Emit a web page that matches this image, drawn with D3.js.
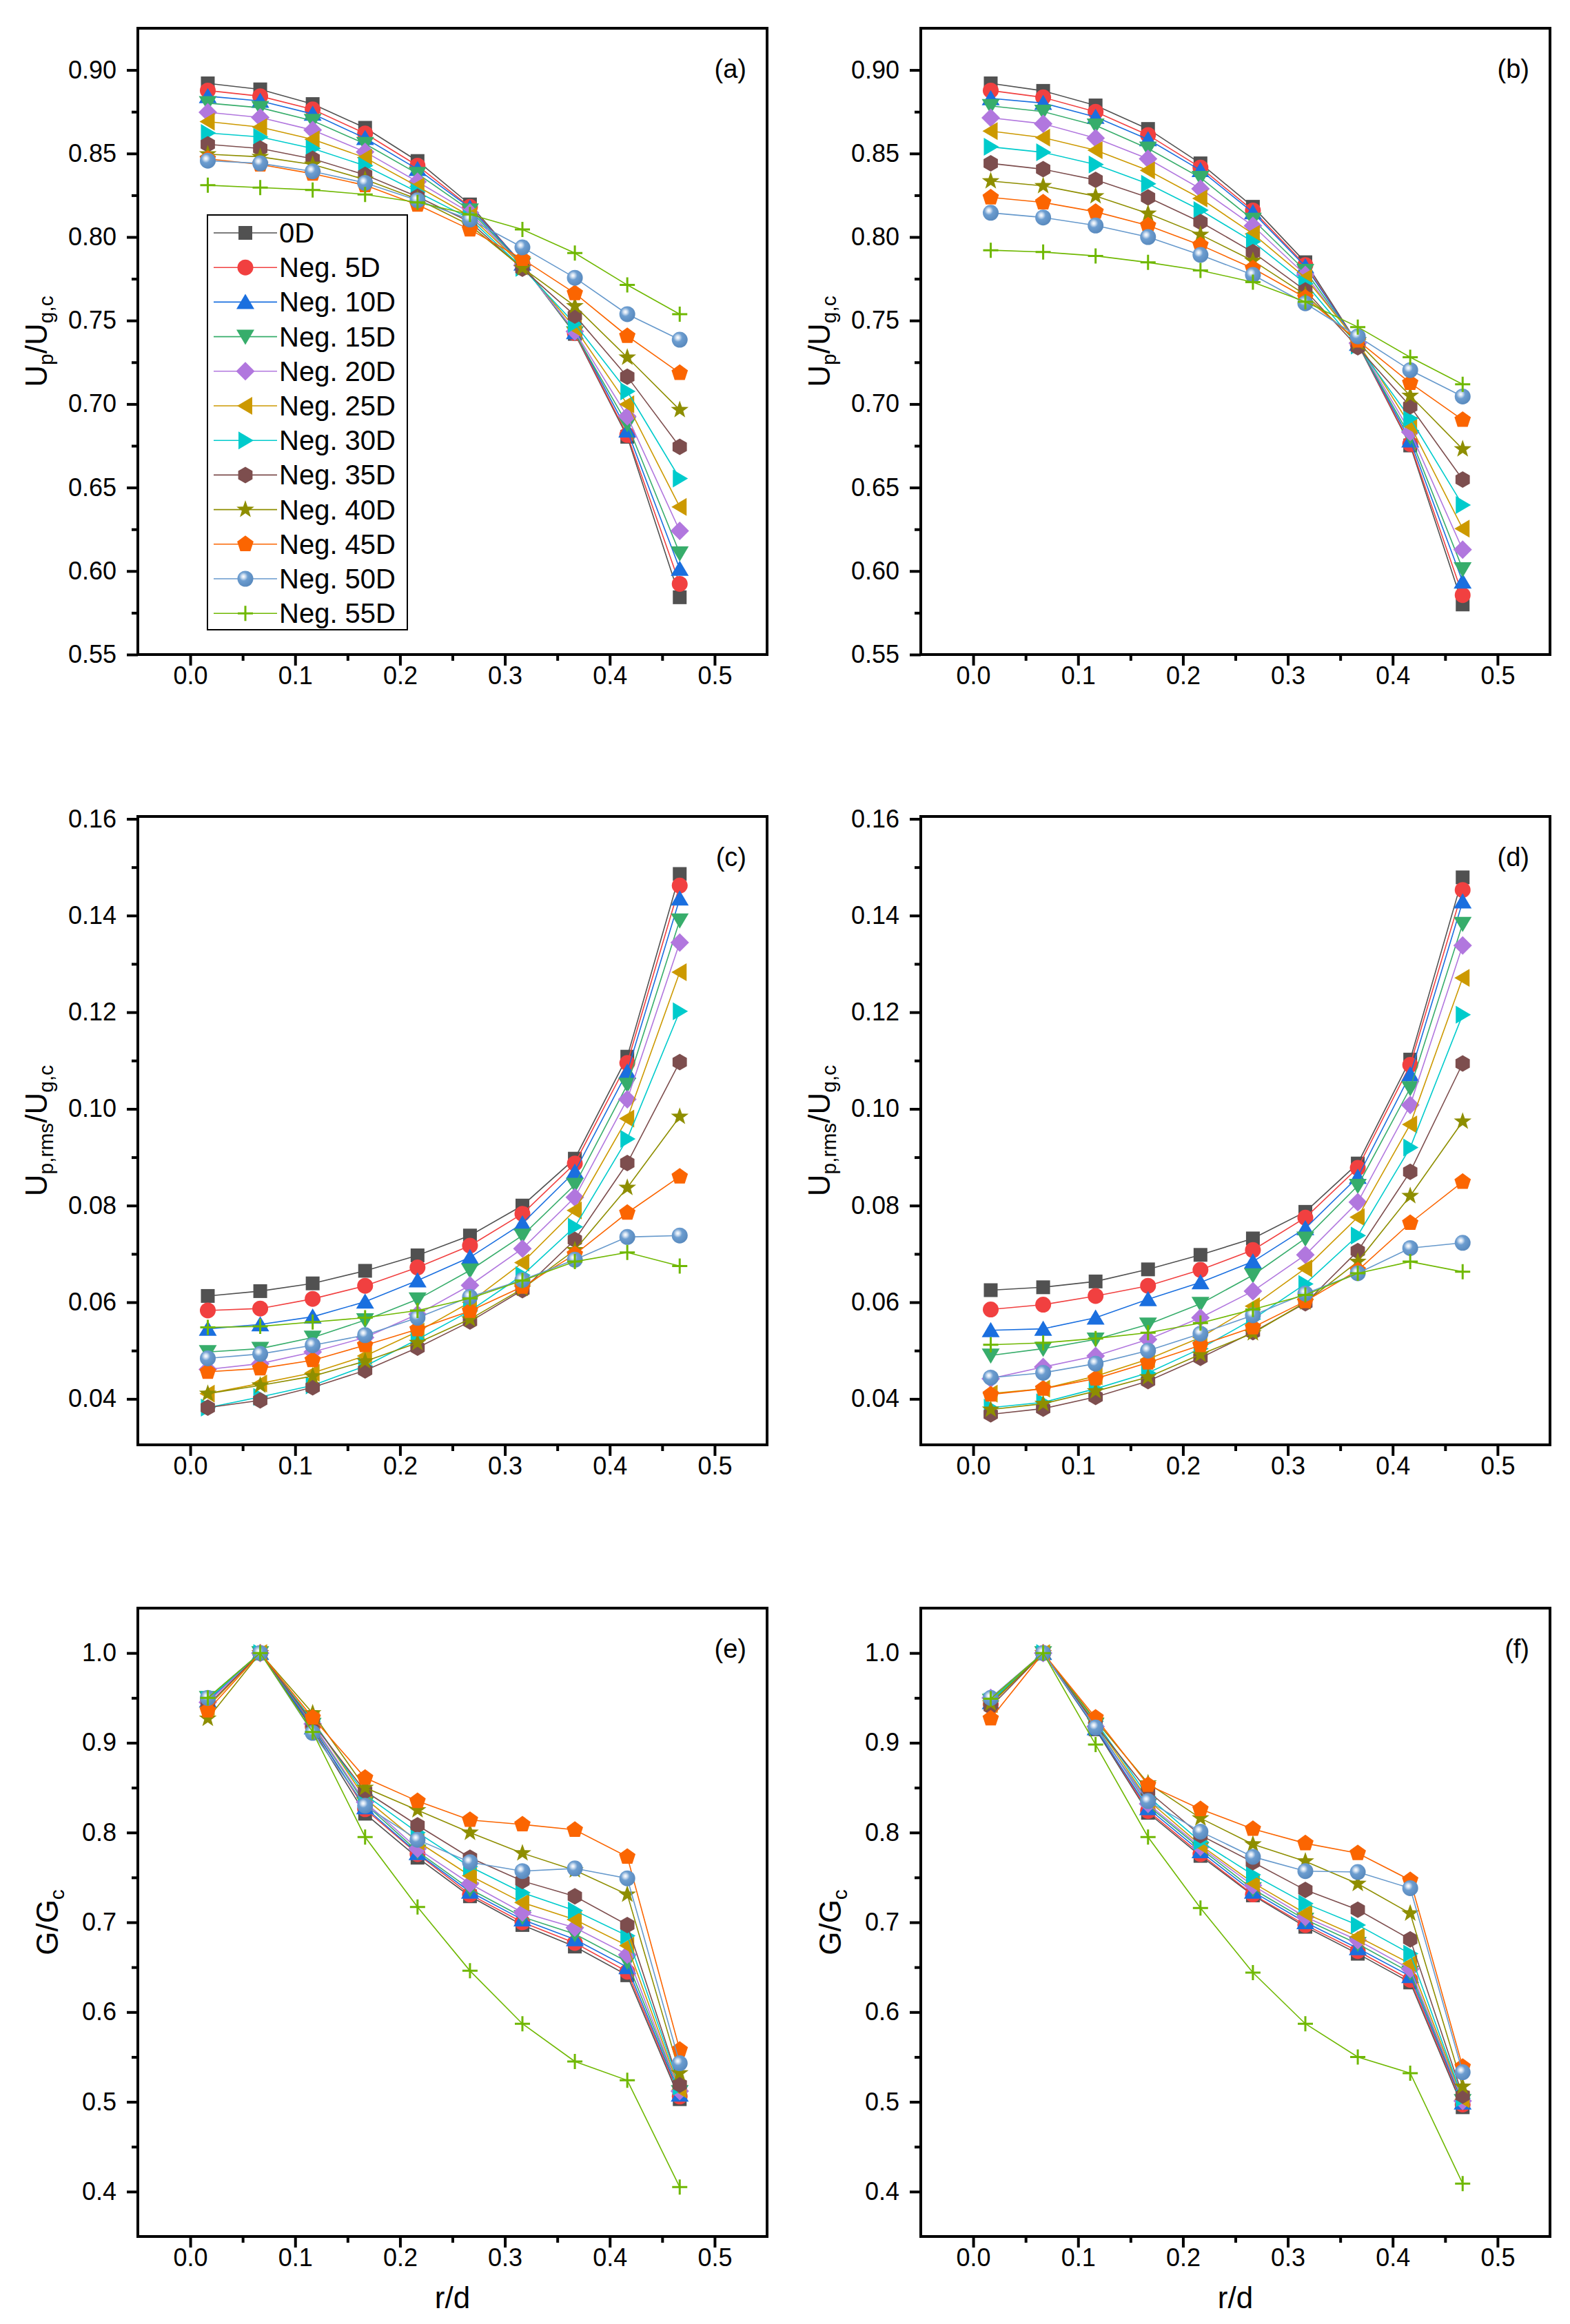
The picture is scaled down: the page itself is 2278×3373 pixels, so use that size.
<!DOCTYPE html>
<html>
<head>
<meta charset="utf-8">
<script src="https://cdn.jsdelivr.net/npm/d3@7"></script>
<style>
body { margin: 0; background: #ffffff; }
text { font-family: "Liberation Sans", Arial, sans-serif; }
</style>
</head>
<body>
<div id="chart"></div>
<script>
// radial positions r/d
var rd = [0.0167, 0.0667, 0.1167, 0.1667, 0.2167, 0.2667, 0.3167, 0.3667, 0.4167, 0.4667];

var seriesNames = ["0D", "Neg. 5D", "Neg. 10D", "Neg. 15D", "Neg. 20D", "Neg. 25D",
    "Neg. 30D", "Neg. 35D", "Neg. 40D", "Neg. 45D", "Neg. 50D", "Neg. 55D"];
var seriesColors = ["#515151", "#F14040", "#1A6FDF", "#37AD6B", "#B177DE", "#CC9900",
    "#00CBCC", "#7D4E4E", "#8E8E00", "#FB6501", "#6699CC", "#6FB802"];
var seriesMarkers = ["square", "circle", "up", "down", "diamond", "left",
    "right", "hexagon", "star", "pentagon", "sphere", "plus"];

// (a) Up/Ug,c
var upA = [
    [0.892, 0.8884, 0.8796, 0.8654, 0.8455, 0.8195, 0.7835, 0.742, 0.6804, 0.5843],
    [0.8877, 0.8843, 0.8764, 0.862, 0.8427, 0.818, 0.784, 0.7425, 0.6815, 0.5923],
    [0.8843, 0.8815, 0.8737, 0.8592, 0.8406, 0.8175, 0.784, 0.743, 0.6841, 0.6013],
    [0.8802, 0.8774, 0.8696, 0.8558, 0.8379, 0.816, 0.7835, 0.7425, 0.688, 0.6106],
    [0.8747, 0.8716, 0.864, 0.851, 0.8331, 0.8145, 0.783, 0.7435, 0.6926, 0.6241],
    [0.8691, 0.8658, 0.8585, 0.8475, 0.8303, 0.8125, 0.783, 0.7455, 0.6999, 0.6384],
    [0.8623, 0.8599, 0.853, 0.8427, 0.8269, 0.811, 0.7815, 0.748, 0.7076, 0.6554],
    [0.8555, 0.853, 0.8468, 0.8372, 0.8241, 0.809, 0.781, 0.753, 0.7164, 0.6744],
    [0.8496, 0.848, 0.8434, 0.8344, 0.8227, 0.807, 0.7815, 0.7587, 0.7279, 0.6965],
    [0.8468, 0.8434, 0.8379, 0.831, 0.8193, 0.8045, 0.7868, 0.7663, 0.7407, 0.7186],
    [0.8457, 0.8441, 0.8393, 0.8324, 0.822, 0.8105, 0.7938, 0.7756, 0.7538, 0.7385],
    [0.831, 0.8296, 0.8282, 0.8255, 0.8207, 0.8135, 0.8045, 0.7904, 0.7713, 0.7538]
];

// (b) Up/Ug,c
var upB = [
    [0.892, 0.8875, 0.8788, 0.8647, 0.8441, 0.8181, 0.7849, 0.736, 0.6752, 0.58],
    [0.8877, 0.8836, 0.875, 0.8611, 0.8416, 0.8159, 0.7832, 0.736, 0.6761, 0.5856],
    [0.883, 0.8802, 0.8719, 0.8585, 0.84, 0.8147, 0.7824, 0.736, 0.6781, 0.5936],
    [0.8785, 0.8751, 0.8668, 0.853, 0.8355, 0.8104, 0.7798, 0.736, 0.6804, 0.6012],
    [0.8714, 0.8678, 0.8592, 0.8468, 0.8289, 0.8067, 0.7773, 0.7365, 0.6833, 0.6128],
    [0.8634, 0.8595, 0.852, 0.8399, 0.8231, 0.8019, 0.7756, 0.737, 0.6872, 0.6254],
    [0.854, 0.8507, 0.8434, 0.8319, 0.8161, 0.7972, 0.7722, 0.735, 0.6914, 0.6395],
    [0.8441, 0.8406, 0.8342, 0.8237, 0.809, 0.7909, 0.768, 0.734, 0.6986, 0.6548],
    [0.8335, 0.8306, 0.8245, 0.8141, 0.8014, 0.7858, 0.7654, 0.737, 0.705, 0.673],
    [0.8237, 0.8207, 0.8151, 0.8069, 0.7952, 0.7812, 0.7637, 0.738, 0.7126, 0.6905],
    [0.8145, 0.8117, 0.8069, 0.80, 0.7893, 0.7773, 0.7603, 0.7405, 0.7203, 0.7045],
    [0.7921, 0.791, 0.7887, 0.7848, 0.78, 0.773, 0.7612, 0.7461, 0.728, 0.7118]
];

// (c) Up,rms/Ug,c
var rmsC = [
    [0.0613, 0.0623, 0.0639, 0.0665, 0.0697, 0.0738, 0.080, 0.0897, 0.1108, 0.1486],
    [0.0583, 0.0587, 0.0607, 0.0634, 0.0672, 0.0717, 0.0783, 0.0887, 0.1095, 0.1462],
    [0.0545, 0.0554, 0.057, 0.0601, 0.0645, 0.0693, 0.0763, 0.087, 0.1077, 0.1435],
    [0.0497, 0.0504, 0.0527, 0.0563, 0.0606, 0.0666, 0.0738, 0.0843, 0.105, 0.139],
    [0.0461, 0.0473, 0.0497, 0.0527, 0.0575, 0.0635, 0.0711, 0.0817, 0.102, 0.1344],
    [0.0411, 0.0432, 0.0454, 0.0489, 0.0539, 0.060, 0.0682, 0.079, 0.098, 0.1283],
    [0.0382, 0.0404, 0.0428, 0.0468, 0.0523, 0.0582, 0.0656, 0.0756, 0.0938, 0.1202],
    [0.0382, 0.0397, 0.0424, 0.0459, 0.0506, 0.056, 0.0625, 0.0729, 0.0888, 0.1097],
    [0.0411, 0.0428, 0.0447, 0.0478, 0.0516, 0.0565, 0.0628, 0.0708, 0.0837, 0.0984],
    [0.0456, 0.0463, 0.048, 0.0511, 0.0544, 0.0582, 0.0632, 0.0699, 0.0785, 0.086],
    [0.0484, 0.0493, 0.0511, 0.0532, 0.0568, 0.0611, 0.0646, 0.0688, 0.0735, 0.0738],
    [0.0548, 0.055, 0.0559, 0.0568, 0.0583, 0.0608, 0.0645, 0.0684, 0.0703, 0.0675]
];

// (d) Up,rms/Ug,c
var rmsD = [
    [0.0625, 0.0631, 0.0643, 0.0668, 0.0698, 0.0732, 0.0787, 0.0887, 0.1102, 0.1479],
    [0.0585, 0.0595, 0.0613, 0.0634, 0.0667, 0.0708, 0.0775, 0.0878, 0.1091, 0.1453],
    [0.0542, 0.0545, 0.0568, 0.0606, 0.0641, 0.0684, 0.0753, 0.0859, 0.1071, 0.1429],
    [0.049, 0.0504, 0.0523, 0.0554, 0.0597, 0.0656, 0.0732, 0.0841, 0.1043, 0.1383],
    [0.0442, 0.0466, 0.0489, 0.0523, 0.0568, 0.0623, 0.0698, 0.0807, 0.1008, 0.1338],
    [0.0411, 0.0421, 0.0447, 0.0482, 0.0527, 0.0592, 0.067, 0.0776, 0.0968, 0.1271],
    [0.0382, 0.0393, 0.0421, 0.0454, 0.0504, 0.0565, 0.0638, 0.0738, 0.092, 0.1195],
    [0.0368, 0.038, 0.0404, 0.0437, 0.0485, 0.0538, 0.0598, 0.0706, 0.087, 0.1094],
    [0.0378, 0.039, 0.0416, 0.0445, 0.0492, 0.0536, 0.060, 0.0684, 0.082, 0.0974],
    [0.0409, 0.0421, 0.0442, 0.0475, 0.0511, 0.0548, 0.0602, 0.0666, 0.0764, 0.0849],
    [0.0444, 0.0454, 0.0473, 0.050, 0.0535, 0.0573, 0.0618, 0.066, 0.0712, 0.0723],
    [0.0512, 0.0516, 0.0525, 0.0537, 0.0557, 0.0585, 0.0615, 0.066, 0.0684, 0.0663]
];

// (e) G/Gc
var gE = [
    [0.948, 1.0, 0.915, 0.821, 0.772, 0.729, 0.697, 0.673, 0.641, 0.503],
    [0.946, 1.0, 0.918, 0.826, 0.776, 0.731, 0.700, 0.677, 0.645, 0.506],
    [0.947, 1.0, 0.917, 0.828, 0.777, 0.734, 0.703, 0.681, 0.650, 0.508],
    [0.950, 1.0, 0.920, 0.832, 0.779, 0.737, 0.706, 0.687, 0.656, 0.511],
    [0.945, 1.0, 0.921, 0.834, 0.782, 0.743, 0.711, 0.694, 0.664, 0.512],
    [0.940, 1.0, 0.925, 0.838, 0.790, 0.752, 0.722, 0.703, 0.674, 0.514],
    [0.948, 1.0, 0.924, 0.842, 0.800, 0.762, 0.733, 0.713, 0.685, 0.517],
    [0.942, 1.0, 0.922, 0.846, 0.808, 0.772, 0.746, 0.729, 0.697, 0.519],
    [0.927, 1.0, 0.933, 0.850, 0.825, 0.800, 0.777, 0.758, 0.731, 0.532],
    [0.936, 1.0, 0.928, 0.861, 0.835, 0.814, 0.809, 0.803, 0.773, 0.558],
    [0.950, 1.0, 0.911, 0.830, 0.792, 0.767, 0.757, 0.760, 0.749, 0.543],
    [0.950, 1.0, 0.912, 0.795, 0.717, 0.646, 0.587, 0.545, 0.524, 0.405]
];

// (f) G/Gc
var gF = [
    [0.945, 1.0, 0.915, 0.822, 0.774, 0.730, 0.695, 0.665, 0.633, 0.494],
    [0.943, 1.0, 0.917, 0.824, 0.776, 0.731, 0.697, 0.668, 0.636, 0.497],
    [0.945, 1.0, 0.916, 0.827, 0.779, 0.734, 0.700, 0.671, 0.640, 0.499],
    [0.947, 1.0, 0.920, 0.830, 0.782, 0.737, 0.703, 0.676, 0.644, 0.501],
    [0.950, 1.0, 0.918, 0.832, 0.784, 0.741, 0.706, 0.680, 0.648, 0.501],
    [0.943, 1.0, 0.922, 0.836, 0.786, 0.744, 0.710, 0.684, 0.654, 0.503],
    [0.946, 1.0, 0.924, 0.840, 0.790, 0.753, 0.721, 0.697, 0.665, 0.504],
    [0.940, 1.0, 0.920, 0.846, 0.797, 0.767, 0.736, 0.714, 0.681, 0.507],
    [0.944, 1.0, 0.925, 0.855, 0.816, 0.787, 0.768, 0.743, 0.710, 0.517],
    [0.927, 1.0, 0.928, 0.853, 0.826, 0.804, 0.788, 0.777, 0.747, 0.539],
    [0.950, 1.0, 0.917, 0.835, 0.801, 0.773, 0.757, 0.756, 0.738, 0.533],
    [0.949, 1.0, 0.898, 0.795, 0.716, 0.644, 0.587, 0.550, 0.532, 0.409]
];

var xTicks = [0.0, 0.1, 0.2, 0.3, 0.4, 0.5];
var xMinor = [0.05, 0.15, 0.25, 0.35, 0.45];
var upTicks = [0.55, 0.60, 0.65, 0.70, 0.75, 0.80, 0.85, 0.90];
var upMinor = [0.575, 0.625, 0.675, 0.725, 0.775, 0.825, 0.875, 0.925];
var rmsTicks = [0.04, 0.06, 0.08, 0.10, 0.12, 0.14, 0.16];
var rmsMinor = [0.05, 0.07, 0.09, 0.11, 0.13, 0.15];
var gTicks = [0.4, 0.5, 0.6, 0.7, 0.8, 0.9, 1.0];
var gMinor = [0.45, 0.55, 0.65, 0.75, 0.85, 0.95];

var svgWidth = 2278;
var svgHeight = 3373;

var svg = d3.select("#chart")
    .append("svg")
    .attr("width", svgWidth)
    .attr("height", svgHeight);

// gradient for the sphere marker
var grad = svg.append("defs")
    .append("radialGradient")
    .attr("id", "sphere")
    .attr("cx", "38%")
    .attr("cy", "36%")
    .attr("r", "62%");
grad.append("stop").attr("offset", "0%").attr("stop-color", "#ffffff");
grad.append("stop").attr("offset", "18%").attr("stop-color", "#d4e2f2");
grad.append("stop").attr("offset", "45%").attr("stop-color", "#6c9dd0");
grad.append("stop").attr("offset", "100%").attr("stop-color", "#5a8bbf");

function poly(pts) {
    return "M" + pts.map(p => p[0].toFixed(2) + "," + p[1].toFixed(2)).join("L") + "Z";
}
function ring(n, r, start) {
    return d3.range(n).map(k => {
        var a = (start + k * 360 / n) * Math.PI / 180;
        return [r * Math.cos(a), r * Math.sin(a)];
    });
}

var markerPaths = {
    square: poly([[-10, -10], [10, -10], [10, 10], [-10, 10]]),
    circle: d3.symbol(d3.symbolCircle, Math.PI * 11.5 * 11.5)(),
    up: poly([[0, -12], [13, 10], [-13, 10]]),
    down: poly([[0, 12], [13, -10], [-13, -10]]),
    diamond: poly([[0, -13.5], [13.5, 0], [0, 13.5], [-13.5, 0]]),
    left: poly([[-12, 0], [10, -13], [10, 13]]),
    right: poly([[12, 0], [-10, -13], [-10, 13]]),
    hexagon: poly(ring(6, 12, -90)),
    star: poly(d3.range(10).map(k => {
        var r = k % 2 === 0 ? 13.5 : 5.4;
        var a = (-90 + k * 36) * Math.PI / 180;
        return [r * Math.cos(a), r * Math.sin(a)];
    })),
    pentagon: poly(ring(5, 12.5, -90)),
    sphere: d3.symbol(d3.symbolCircle, Math.PI * 11.5 * 11.5)(),
    plus: "M-11,0H11M0,-11V11"
};

function addMarkers(g, pts, s) {
    var type = seriesMarkers[s];
    var sel = g.selectAll("path.m" + s)
        .data(pts)
        .enter()
        .append("path")
        .attr("class", "m" + s)
        .attr("transform", d => `translate(${d[0]}, ${d[1]})`)
        .attr("d", markerPaths[type]);
    if (type === "plus") {
        sel.attr("fill", "none").attr("stroke", seriesColors[s]).attr("stroke-width", 3);
    }
    else if (type === "sphere") {
        sel.attr("fill", "url(#sphere)");
    }
    else {
        sel.attr("fill", seriesColors[s]);
    }
}

function addTitle(g, parts, size) {
    parts.forEach(function(p, i) {
        var t = g.append("tspan").text(p[0]);
        if (p[1]) {
            t.attr("font-size", size * 0.68).attr("dy", size * 0.2);
        }
        else {
            t.attr("font-size", size);
            if (i > 0 && parts[i - 1][1]) t.attr("dy", -size * 0.2);
        }
    });
}

var cols = [[200, 1113], [1336, 2249]];
var rows = [[41, 950], [1185, 2097], [2334, 3246]];

var upTitle = [["U", false], ["p", true], ["/U", false], ["g,c", true]];
var rmsTitle = [["U", false], ["p,rms", true], ["/U", false], ["g,c", true]];
var gTitle = [["G/G", false], ["c", true]];

var panels = [
    {data: upA, col: 0, row: 0, domain: [0.55, 0.925], ticks: upTicks, minor: upMinor, fmt: ".2f", label: "(a)", title: upTitle, tOff: 132, legend: true},
    {data: upB, col: 1, row: 0, domain: [0.55, 0.925], ticks: upTicks, minor: upMinor, fmt: ".2f", label: "(b)", title: upTitle, tOff: 132},
    {data: rmsC, col: 0, row: 1, domain: [0.0305, 0.1605], ticks: rmsTicks, minor: rmsMinor, fmt: ".2f", label: "(c)", title: rmsTitle, tOff: 132},
    {data: rmsD, col: 1, row: 1, domain: [0.0305, 0.1605], ticks: rmsTicks, minor: rmsMinor, fmt: ".2f", label: "(d)", title: rmsTitle, tOff: 132},
    {data: gE, col: 0, row: 2, domain: [0.35, 1.05], ticks: gTicks, minor: gMinor, fmt: ".1f", label: "(e)", title: gTitle, tOff: 116, xTitle: true},
    {data: gF, col: 1, row: 2, domain: [0.35, 1.05], ticks: gTicks, minor: gMinor, fmt: ".1f", label: "(f)", title: gTitle, tOff: 116, xTitle: true}
];

function styleAxis(g) {
    g.attr("font-size", 36).attr("font-family", "'Liberation Sans', Arial, sans-serif");
    g.select(".domain").remove();
    g.selectAll(".tick line").attr("stroke", "#000").attr("stroke-width", 4);
    g.selectAll(".tick text").attr("fill", "#000");
}

panels.forEach(function(p) {
    var x0 = cols[p.col][0], x1 = cols[p.col][1];
    var y0 = rows[p.row][0], y1 = rows[p.row][1];

    var xScale = d3.scaleLinear().domain([-0.05, 0.55]).range([x0, x1]);
    var yScale = d3.scaleLinear().domain(p.domain).range([y1, y0]);

    var chartGroup = svg.append("g");

    // axes
    chartGroup.append("g")
        .attr("transform", `translate(0, ${y1})`)
        .call(d3.axisBottom(xScale).tickValues(xTicks).tickFormat(d3.format(".1f")).tickSize(16).tickPadding(1))
        .call(styleAxis);
    chartGroup.append("g")
        .attr("transform", `translate(0, ${y1})`)
        .call(d3.axisBottom(xScale).tickValues(xMinor).tickFormat("").tickSize(9))
        .call(styleAxis);
    chartGroup.append("g")
        .attr("transform", `translate(${x0}, 0)`)
        .call(d3.axisLeft(yScale).tickValues(p.ticks).tickFormat(d3.format(p.fmt)).tickSize(16).tickPadding(15))
        .call(styleAxis);
    chartGroup.append("g")
        .attr("transform", `translate(${x0}, 0)`)
        .call(d3.axisLeft(yScale).tickValues(p.minor.filter(v => v < p.domain[1])).tickFormat("").tickSize(9))
        .call(styleAxis);

    // frame
    chartGroup.append("rect")
        .attr("x", x0)
        .attr("y", y0)
        .attr("width", x1 - x0)
        .attr("height", y1 - y0)
        .attr("fill", "none")
        .attr("stroke", "#000")
        .attr("stroke-width", 4);

    // series lines and markers
    var line = d3.line()
        .x(d => xScale(d[0]))
        .y(d => yScale(d[1]));
    p.data.forEach(function(vals, s) {
        var pts = rd.map((r, i) => [r, vals[i]]);
        chartGroup.append("path")
            .datum(pts)
            .attr("fill", "none")
            .attr("stroke", seriesColors[s])
            .attr("stroke-width", 1.6)
            .attr("d", line);
        addMarkers(chartGroup, pts.map(d => [xScale(d[0]), yScale(d[1])]), s);
    });

    // panel label
    chartGroup.append("text")
        .attr("x", x1 - 30)
        .attr("y", y0 + 72)
        .attr("text-anchor", "end")
        .attr("font-size", 38)
        .text(p.label);

    // y axis title
    var yt = chartGroup.append("text")
        .attr("transform", `translate(${x0 - p.tOff}, ${(y0 + y1) / 2}) rotate(-90)`)
        .attr("text-anchor", "middle");
    addTitle(yt, p.title, 44);

    if (p.xTitle) {
        chartGroup.append("text")
            .attr("x", (x0 + x1) / 2)
            .attr("y", y1 + 104)
            .attr("text-anchor", "middle")
            .attr("font-size", 44)
            .text("r/d");
    }

    if (p.legend) {
        var legend = chartGroup.append("g");
        legend.append("rect")
            .attr("x", 301)
            .attr("y", 312)
            .attr("width", 290)
            .attr("height", 602)
            .attr("fill", "#fff")
            .attr("stroke", "#000")
            .attr("stroke-width", 2);
        seriesNames.forEach(function(name, s) {
            var ly = 338 + s * 50.2;
            legend.append("line")
                .attr("x1", 310)
                .attr("x2", 402)
                .attr("y1", ly)
                .attr("y2", ly)
                .attr("stroke", seriesColors[s])
                .attr("stroke-width", 1.6);
            addMarkers(legend, [[356, ly]], s);
            legend.append("text")
                .attr("x", 405)
                .attr("y", ly + 14)
                .attr("font-size", 40)
                .text(name);
        });
    }
});
</script>
</body>
</html>
